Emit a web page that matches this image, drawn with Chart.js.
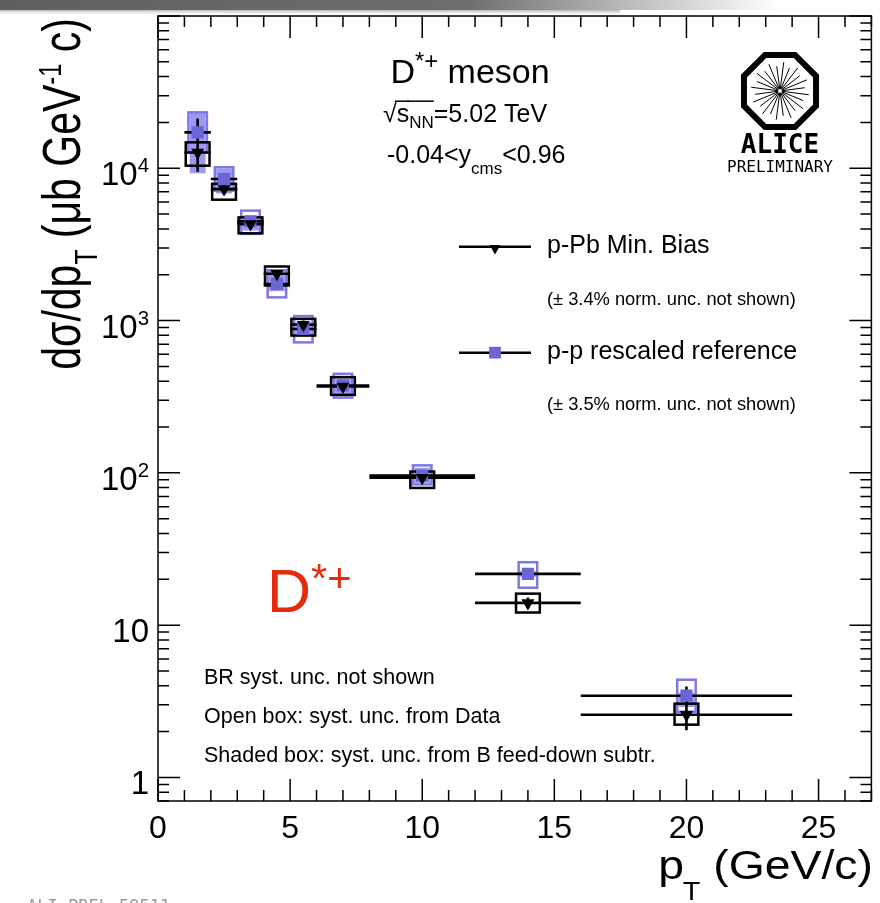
<!DOCTYPE html>
<html><head><meta charset="utf-8">
<script src="https://cdn.jsdelivr.net/npm/chart.js@4.4.1/dist/chart.umd.min.js"></script>
<style>html,body{margin:0;padding:0;background:#fff;}#wrap{width:880px;height:903px;}</style>
</head><body><div id="wrap"><canvas id="c" width="880" height="903"></canvas></div>
<script>
// ---------------- data ----------------
const binLow   = [1, 2, 3, 4, 5, 6, 8, 12, 16];
const binHigh  = [2, 3, 4, 5, 6, 8, 12, 16, 24];
const ptCenter = [1.5, 2.5, 3.5, 4.5, 5.5, 7, 10, 14, 20];

const pPbValue   = [12700, 7300, 4300, 2030, 940, 369, 93, 14.0, 2.58];
const pPbStatLo  = [9500, 6700, 4100, 1910, 885, 350, 87, 12.9, 2.04];
const pPbStatHi  = [15900, 7900, 4500, 2150, 1000, 388, 99, 15.2, 3.13];
const pPbSystLo  = [10400, 6220, 3740, 1700, 797, 325, 79.6, 12.1, 2.22];
const pPbSystHi  = [14800, 7910, 4760, 2265, 1026, 425, 102, 16.1, 3.05];

const ppValue    = [17200, 8500, 4490, 1740, 880, 375, 96, 21.7, 3.44];
const ppStatLo   = [13200, 8000, 4310, 1650, 836, 360, 91, 20.4, 2.95];
const ppStatHi   = [21200, 9000, 4670, 1830, 924, 390, 101, 23.0, 3.95];
const ppSystLo   = [12700, 7130, 3710, 1420, 719, 312, 84, 17.6, 2.70];
const ppSystHi   = [23300, 10150, 5270, 2140, 1070, 447, 112, 25.9, 4.38];
const ppFdLo     = [9270, 6830, 3900, 1560, 797, 324, 86, 20.8, 2.90];
const ppFdHi     = [23300, 9950, 4890, 2120, 975, 417, 108, 22.6, 3.60];

const xMajorTicks = [0, 5, 10, 15, 20, 25];
const yDecades    = [1, 10, 100, 1000, 10000];
const yTickLabels = [["1", ""], ["10", ""], ["10", "2"], ["10", "3"], ["10", "4"]];

// ---------------- styles ----------------
const FONT = "'Liberation Sans', Arial, Helvetica, sans-serif";
const MONO = "'DejaVu Sans Mono', monospace";
const PP_COLOR = '#6b66d6';
const PP_BOX = '#7d78e4';
const PP_FD = 'rgba(140,134,238,0.85)';
const RED = '#e62a0c';

function drawRich(ctx, segs, x, y, o) {
  const size = o.size, fam = o.family || FONT, wt = o.weight || 'normal';
  ctx.save();
  ctx.translate(x, y);
  ctx.scale(o.sx || 1, 1);
  if (o.rotate) ctx.rotate(-Math.PI / 2);
  ctx.fillStyle = o.color || '#000';
  ctx.strokeStyle = o.color || '#000';
  ctx.textBaseline = 'alphabetic';
  ctx.textAlign = 'left';
  const ws = segs.map(s => { ctx.font = `${wt} ${size * (s.s || 1)}px ${fam}`; return ctx.measureText(s.t).width; });
  const total = ws.reduce((a, b) => a + b, 0);
  let cx = o.align === 'right' ? -total : o.align === 'center' ? -total / 2 : 0;
  segs.forEach((s, i) => {
    ctx.font = `${wt} ${size * (s.s || 1)}px ${fam}`;
    ctx.fillText(s.t, cx + (s.dx || 0), s.dy || 0);
    if (s.over) {
      ctx.lineWidth = 1.5;
      ctx.beginPath();
      ctx.moveTo(cx - 2, -size * 0.82);
      ctx.lineTo(cx + ws[i], -size * 0.82);
      ctx.stroke();
    }
    cx += ws[i] + (s.dx || 0);
  });
  ctx.restore();
}

const bandPlugin = {
  id: 'band',
  beforeDraw(chart) {
    const ctx = chart.ctx;
    ctx.save();
    ctx.fillStyle = '#fff';
    ctx.fillRect(0, 0, chart.width, chart.height);
    const g = ctx.createLinearGradient(0, 0, 780, 0);
    g.addColorStop(0, 'rgba(95,95,95,1)');
    g.addColorStop(0.6, 'rgba(110,110,110,1)');
    g.addColorStop(0.8, 'rgba(185,185,185,1)');
    g.addColorStop(1, 'rgba(255,255,255,1)');
    ctx.fillStyle = g;
    ctx.fillRect(0, 0, 780, 10);
    const g2 = ctx.createLinearGradient(0, 10, 0, 16);
    g2.addColorStop(0, 'rgba(150,150,150,0.7)');
    g2.addColorStop(1, 'rgba(255,255,255,0)');
    ctx.fillStyle = g2;
    ctx.fillRect(0, 10, 620, 6);
    ctx.restore();
  }
};

const framePlugin = {
  id: 'frame',
  afterDraw(chart) {
    const ctx = chart.ctx, a = chart.chartArea;
    const xs = chart.scales.x, ys = chart.scales.y;
    ctx.save();
    ctx.strokeStyle = '#000';
    ctx.lineWidth = 1.5;
    ctx.strokeRect(a.left, a.top, a.right - a.left, a.bottom - a.top);
    ctx.beginPath();
    for (let v = Math.ceil(xs.min); v <= xs.max; v++) {
      const px = xs.getPixelForValue(v);
      const len = (v % 5 === 0) ? 22 : 11;
      ctx.moveTo(px, a.bottom); ctx.lineTo(px, a.bottom - len);
      ctx.moveTo(px, a.top); ctx.lineTo(px, a.top + len);
    }
    for (let e = -1; e <= 5; e++) {
      for (let m = 1; m <= 9; m++) {
        const v = m * Math.pow(10, e);
        if (v < ys.min || v > ys.max) continue;
        const py = ys.getPixelForValue(v);
        const len = m === 1 ? 22 : 11;
        ctx.moveTo(a.left, py); ctx.lineTo(a.left + len, py);
        ctx.moveTo(a.right, py); ctx.lineTo(a.right - len, py);
      }
    }
    ctx.stroke();

    // y tick labels
    yDecades.forEach((v, i) => {
      const py = ys.getPixelForValue(v);
      const [base, sup] = yTickLabels[i];
      const segs = [{ t: base }];
      if (sup) segs.push({ t: sup, s: 0.62, dy: -13 });
      drawRich(ctx, segs, 149, py + 17, { size: 33, align: 'right' });
    });

    // axis titles
    drawRich(ctx, [{ t: 'p' }, { t: 'T', s: 0.62, dy: 21, dx: -1 }, { t: ' (GeV/c)' }], 874, 879,
      { size: 41, align: 'right', sx: 1.13 });
    drawRich(ctx, [{ t: 'd\u03c3/dp' }, { t: 'T', s: 0.6, dy: 13 }, { t: ' (\u03bcb GeV' },
      { t: '-1', s: 0.58, dy: -15 }, { t: ' c)' }], 80, 18,
      { size: 41, align: 'right', sx: 1.3, rotate: true });

    // header
    drawRich(ctx, [{ t: 'D' }, { t: '*+', s: 0.7, dy: -14 }, { t: ' meson' }], 470, 83,
      { size: 34, align: 'center' });
    drawRich(ctx, [{ t: '\u221a' }, { t: 's', over: true }, { t: 'NN', s: 0.68, dy: 6, over: true }, { t: '=5.02 TeV' }],
      383, 121.7, { size: 25 });
    drawRich(ctx, [{ t: '-0.04<y' }, { t: 'cms', s: 0.68, dy: 11 }, { t: '<0.96' }], 387, 163, { size: 25 });

    // ALICE logo
    const cx0 = 780, cy0 = 91, R = 39;
    ctx.lineWidth = 6;
    ctx.lineJoin = 'miter';
    ctx.beginPath();
    for (let k = 0; k < 8; k++) {
      const ang = Math.PI / 8 + k * Math.PI / 4;
      const px = cx0 + R * Math.cos(ang), py = cy0 + R * Math.sin(ang);
      if (k === 0) ctx.moveTo(px, py); else ctx.lineTo(px, py);
    }
    ctx.closePath();
    ctx.stroke();
    ctx.lineWidth = 1;
    ctx.beginPath();
    for (let k = 0; k < 24; k++) {
      const ang = k * Math.PI / 12 + 0.13;
      const r1 = 2, r2 = (k % 2 === 0) ? 29 : 25;
      ctx.moveTo(cx0 + r1 * Math.cos(ang), cy0 + r1 * Math.sin(ang));
      ctx.lineTo(cx0 + r2 * Math.cos(ang), cy0 + r2 * Math.sin(ang));
    }
    ctx.stroke();
    drawRich(ctx, [{ t: 'ALICE' }], cx0, 153, { size: 26, family: MONO, weight: 'bold', align: 'center' });
    drawRich(ctx, [{ t: 'PRELIMINARY' }], cx0, 172, { size: 16, family: MONO, align: 'center' });

    // legend
    const ds = chart.data.datasets;
    const legY = [246.7, 352.7];
    const legR = [6.2, 8.3];
    ds.forEach((d, i) => {
      ctx.strokeStyle = '#000';
      ctx.lineWidth = 2.5;
      ctx.beginPath();
      ctx.moveTo(459, legY[i]); ctx.lineTo(531, legY[i]);
      ctx.stroke();
      ctx.fillStyle = d.backgroundColor;
      ctx.strokeStyle = d.backgroundColor;
      Chart.helpers.drawPoint(ctx, { pointStyle: d.pointStyle, rotation: d.rotation || 0, radius: legR[i], borderWidth: 0 },
        495, legY[i] + (i === 0 ? 1.5 : 0));
      drawRich(ctx, [{ t: d.label }], 547, legY[i] + 6.5, { size: 25 });
    });
    drawRich(ctx, [{ t: '(\u00b1 3.4% norm. unc. not shown)' }], 547, 305, { size: 18.3 });
    drawRich(ctx, [{ t: '(\u00b1 3.5% norm. unc. not shown)' }], 547, 410, { size: 18.3 });

    // red label
    drawRich(ctx, [{ t: 'D' }, { t: '*+', s: 0.68, dy: -20 }], 267, 612, { size: 61, color: RED });

    // notes
    drawRich(ctx, [{ t: 'BR syst. unc. not shown' }], 204, 684, { size: 21.5 });
    drawRich(ctx, [{ t: 'Open box: syst. unc. from Data' }], 204, 723, { size: 21.5 });
    drawRich(ctx, [{ t: 'Shaded box: syst. unc. from B feed-down subtr.' }], 204, 761.7, { size: 21.5 });

    drawRich(ctx, [{ t: 'ALI-PREL-59511' }], 27, 912, { size: 17, family: MONO, color: '#9a9a9a' });
    ctx.restore();
  }
};

const errPlugin = {
  id: 'errs',
  beforeDatasetsDraw(chart) {
    const ctx = chart.ctx, a = chart.chartArea;
    const xs = chart.scales.x, ys = chart.scales.y;
    const X = v => xs.getPixelForValue(v), Y = v => ys.getPixelForValue(v);
    ctx.save();
    ctx.beginPath();
    ctx.rect(a.left, a.top, a.right - a.left, a.bottom - a.top);
    ctx.clip();
    const hwFd = 0.3, hwPp = 0.35, hwPb = 0.45;
    // pp feed-down shaded boxes
    ctx.fillStyle = PP_FD;
    ptCenter.forEach((x, i) => {
      ctx.fillRect(X(x - hwFd), Y(ppFdHi[i]), X(x + hwFd) - X(x - hwFd), Y(ppFdLo[i]) - Y(ppFdHi[i]));
    });
    // pp open boxes
    ctx.lineWidth = 2.5;
    ctx.strokeStyle = PP_BOX;
    ptCenter.forEach((x, i) => {
      ctx.strokeRect(X(x - hwPp), Y(ppSystHi[i]), X(x + hwPp) - X(x - hwPp), Y(ppSystLo[i]) - Y(ppSystHi[i]));
    });
    // pPb open boxes
    ctx.strokeStyle = '#000';
    ptCenter.forEach((x, i) => {
      ctx.strokeRect(X(x - hwPb), Y(pPbSystHi[i]), X(x + hwPb) - X(x - hwPb), Y(pPbSystLo[i]) - Y(pPbSystHi[i]));
    });
    // error bars
    ctx.lineWidth = 2.6;
    ctx.strokeStyle = '#000';
    ctx.beginPath();
    ptCenter.forEach((x, i) => {
      ctx.moveTo(X(binLow[i]), Y(pPbValue[i])); ctx.lineTo(X(binHigh[i]), Y(pPbValue[i]));
      ctx.moveTo(X(x), Y(pPbStatLo[i])); ctx.lineTo(X(x), Y(pPbStatHi[i]));
      ctx.moveTo(X(binLow[i]), Y(ppValue[i])); ctx.lineTo(X(binHigh[i]), Y(ppValue[i]));
      ctx.moveTo(X(x), Y(ppStatLo[i])); ctx.lineTo(X(x), Y(ppStatHi[i]));
    });
    ctx.stroke();
    ctx.restore();
  }
};

new Chart(document.getElementById('c').getContext('2d'), {
  type: 'scatter',
  data: {
    datasets: [
      { label: 'p-Pb Min. Bias', data: ptCenter.map((x, i) => ({ x, y: pPbValue[i] })),
        pointStyle: 'triangle', rotation: 180, radius: 7.5, backgroundColor: '#000', borderColor: '#000', borderWidth: 0 },
      { label: 'p-p rescaled reference', data: ptCenter.map((x, i) => ({ x, y: ppValue[i] })),
        pointStyle: 'rect', radius: 8.6, backgroundColor: PP_COLOR, borderColor: PP_COLOR, borderWidth: 0 }
    ]
  },
  options: {
    responsive: false, animation: false, devicePixelRatio: 1,
    layout: { padding: { top: 16, right: 5, left: 0, bottom: 0 } },
    plugins: { legend: { display: false }, tooltip: { enabled: false } },
    scales: {
      x: { type: 'linear', min: 0, max: 27,
        grid: { display: false, drawTicks: false }, border: { display: false },
        ticks: { stepSize: 5, includeBounds: false, color: '#000', padding: 9,
          font: { family: FONT, size: 32 }, maxRotation: 0,
          callback: v => xMajorTicks.includes(v) ? String(v) : '' },
        afterFit(s) { s.height = 102; } },
      y: { type: 'logarithmic', min: 0.7, max: 1e5,
        grid: { display: false, drawTicks: false }, border: { display: false },
        ticks: { display: false },
        afterFit(s) { s.width = 158; } }
    }
  },
  plugins: [bandPlugin, errPlugin, framePlugin]
});
</script></body></html>
